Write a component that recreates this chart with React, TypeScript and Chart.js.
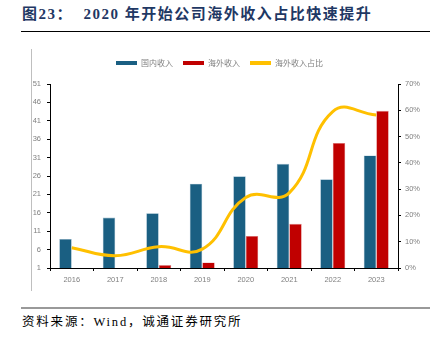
import React, { useEffect, useRef } from "react";
import { Chart, registerables } from "chart.js";

Chart.register(...registerables);

const years = ["2016", "2017", "2018", "2019", "2020", "2021", "2022", "2023"];
const domesticRevenue = [8.9, 14.7, 15.9, 23.9, 25.9, 29.3, 25.1, 31.6];
const overseasRevenue = [0.3, 0.3, 1.8, 2.5, 9.7, 13.0, 35.0, 43.7];
const overseasShare = [7.7, 4.7, 8.1, 7.2, 26.8, 28.6, 59.5, 58.2];
const seriesNames = ["国内收入", "海外收入", "海外收入占比"];
const leftTicks = { min: 1, max: 51, step: 5 };
const rightTicks = { min: 0, max: 70, step: 10 };

const BLUE = "#1A5F82";
const RED = "#C00000";
const YELLOW = "#FFC000";
const TICK_COLOR = "#808080";

const legendSpacer = {
  id: "legendSpacer",
  beforeInit(chart: any) {
    const legend = chart.legend;
    if (!legend) return;
    const orig = legend.fit;
    legend.fit = function () {
      orig.call(this);
      this.height += 7;
    };
  },
};

export default function App() {
  const canvasRef = useRef<HTMLCanvasElement | null>(null);

  useEffect(() => {
    const canvas = canvasRef.current;
    if (!canvas) return;
    const tickFont = { family: "'Liberation Sans', Arial, sans-serif", size: 7.5 };
    const chart = new Chart(canvas, {
      type: "bar",
      plugins: [legendSpacer],
      data: {
        labels: years,
        datasets: [
          {
            type: "bar",
            label: seriesNames[0],
            data: domesticRevenue,
            backgroundColor: BLUE,
            borderColor: "#8fb3c8",
            borderWidth: 0.6,
            yAxisID: "y",
            order: 2,
          },
          {
            type: "bar",
            label: seriesNames[1],
            data: overseasRevenue,
            backgroundColor: RED,
            borderColor: "#e08a8a",
            borderWidth: 0.6,
            yAxisID: "y",
            order: 2,
          },
          {
            type: "line",
            label: seriesNames[2],
            data: overseasShare,
            borderColor: YELLOW,
            backgroundColor: YELLOW,
            borderWidth: 3,
            pointRadius: 0,
            tension: 0.45,
            fill: false,
            yAxisID: "y1",
            order: 1,
          },
        ],
      },
      options: {
        responsive: false,
        animation: false,
        maintainAspectRatio: false,
        layout: { padding: { top: 9, left: 0, right: 0, bottom: 0 } },
        datasets: {
          bar: { barPercentage: 1, categoryPercentage: 0.575 },
        },
        plugins: {
          tooltip: { enabled: false },
          legend: {
            display: true,
            position: "top",
            labels: {
              color: TICK_COLOR,
              font: { family: "'Noto Sans CJK SC', sans-serif", size: 8 },
              boxWidth: 21,
              boxHeight: 4,
              padding: 10,
              generateLabels: (c: any) =>
                c.data.datasets.map((ds: any, i: number) => ({
                  text: ds.label,
                  fillStyle: i === 2 ? YELLOW : ds.backgroundColor,
                  strokeStyle: i === 2 ? YELLOW : ds.backgroundColor,
                  lineWidth: 0,
                  hidden: false,
                  datasetIndex: i,
                  fontColor: TICK_COLOR,
                })),
            },
          },
        },
        scales: {
          x: {
            offset: true,
            grid: {
              offset: true,
              drawOnChartArea: false,
              drawTicks: true,
              tickLength: 3,
              color: "#000",
            },
            border: { display: true, color: "#000", width: 1 },
            ticks: { color: TICK_COLOR, font: tickFont, padding: 4, maxRotation: 0 },
            afterFit: (s: any) => {
              s.height = 27;
            },
          },
          y: {
            position: "left",
            min: leftTicks.min,
            max: leftTicks.max,
            grid: { drawOnChartArea: false, tickLength: 3, color: "#000" },
            border: { display: true, color: "#000", width: 1 },
            ticks: { stepSize: leftTicks.step, color: TICK_COLOR, font: tickFont, padding: 6 },
            afterFit: (s: any) => {
              s.width = 50;
            },
          },
          y1: {
            position: "right",
            min: rightTicks.min,
            max: rightTicks.max,
            grid: { drawOnChartArea: false, tickLength: 3, color: "#000" },
            border: { display: true, color: "#000", width: 1 },
            ticks: {
              stepSize: rightTicks.step,
              color: TICK_COLOR,
              font: tickFont,
              padding: 4,
              callback: (v: any) => v + "%",
            },
            afterFit: (s: any) => {
              s.width = 41;
            },
          },
        },
      },
    });
    return () => chart.destroy();
  }, []);

  return (
    <div
      style={{
        position: "absolute",
        left: 0,
        top: 0,
        width: 439,
        height: 342,
        background: "#fff",
        overflow: "hidden",
      }}
    >
      <div
        style={{
          position: "absolute",
          left: 22,
          top: 4,
          whiteSpace: "nowrap",
          fontFamily: "'Liberation Serif', 'Noto Sans CJK SC', serif",
          fontWeight: 700,
          fontSize: 15,
          letterSpacing: 1.5,
          color: "#1F3864",
          lineHeight: "20px",
        }}
      >
        图23：&nbsp;&nbsp;2020 年开始公司海外收入占比快速提升
      </div>
      <div
        style={{ position: "absolute", left: 21, top: 31, width: 409, height: 1, background: "#000" }}
      />
      <div
        style={{ position: "absolute", left: 31, top: 49, width: 1, height: 242, background: "#bfbfbf" }}
      />
      <canvas
        ref={canvasRef}
        width={439}
        height={255}
        style={{ position: "absolute", left: 0, top: 40, width: 439, height: 255 }}
      />
      <div
        style={{ position: "absolute", left: 21, top: 307, width: 409, height: 2, background: "#999" }}
      />
      <div
        style={{
          position: "absolute",
          left: 22,
          top: 314,
          whiteSpace: "nowrap",
          fontFamily: "'Liberation Serif', 'Noto Sans CJK SC', serif",
          fontSize: 12.5,
          letterSpacing: 1.8,
          color: "#000",
          lineHeight: "16px",
        }}
      >
        资料来源：Wind，诚通证券研究所
      </div>
    </div>
  );
}
